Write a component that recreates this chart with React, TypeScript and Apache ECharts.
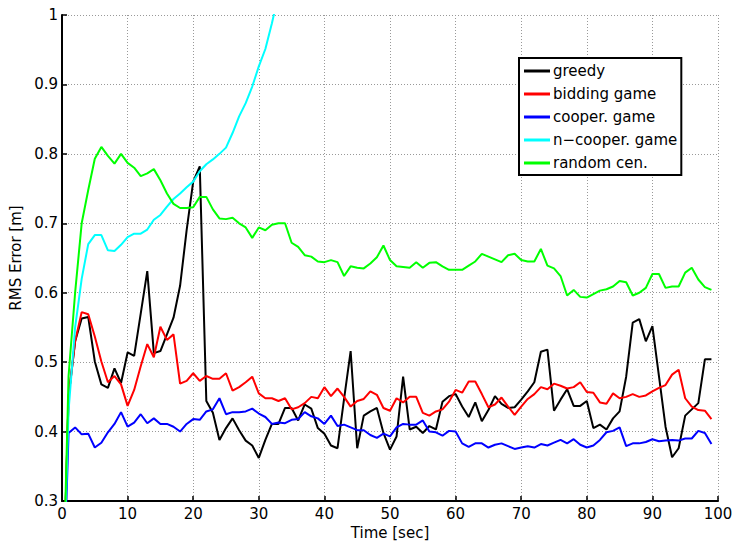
import React, { useEffect, useRef } from "react";
import * as echarts from "echarts";

const seriesNames = ["greedy", "bidding game", "cooper. game", "n\u2212cooper. game", "random cen."];
const seriesColors = ["#000000", "#ff0000", "#0000ff", "#00ffff", "#00ff00"];

const timeSec = Array.from({ length: 100 }, (_, i) => i);

const greedy = [
  0.1, 0.45, 0.53, 0.563, 0.565, 0.501, 0.468, 0.463, 0.491, 0.47,
  0.514, 0.509, 0.57, 0.631, 0.513, 0.516, 0.54, 0.564, 0.61, 0.69,
  0.76, 0.782, 0.444, 0.427, 0.388, 0.405, 0.419, 0.402, 0.387, 0.38,
  0.362, 0.388, 0.411, 0.411, 0.434, 0.434, 0.416, 0.439, 0.433, 0.405,
  0.397, 0.38, 0.376, 0.447, 0.516, 0.376, 0.423, 0.429, 0.434, 0.398,
  0.374, 0.393, 0.479, 0.403, 0.407, 0.398, 0.408, 0.403, 0.443, 0.451,
  0.454, 0.436, 0.421, 0.442, 0.415, 0.431, 0.451, 0.44, 0.434, 0.435,
  0.446, 0.458, 0.471, 0.515, 0.518, 0.43, 0.446, 0.461, 0.437, 0.437,
  0.444, 0.405, 0.41, 0.403, 0.419, 0.429, 0.479, 0.557, 0.562, 0.53,
  0.552, 0.48, 0.407, 0.363, 0.376, 0.423, 0.432, 0.441, 0.504, 0.504,
];

const bidding = [
  0.1, 0.45, 0.53, 0.572, 0.569, 0.537, 0.501, 0.471, 0.48, 0.468,
  0.437, 0.46, 0.494, 0.526, 0.507, 0.551, 0.532, 0.54, 0.469, 0.473,
  0.484, 0.473, 0.48, 0.476, 0.476, 0.484, 0.459, 0.464, 0.471, 0.479,
  0.455, 0.448, 0.448, 0.444, 0.448, 0.432, 0.435, 0.441, 0.45, 0.448,
  0.464, 0.451, 0.462, 0.45, 0.436, 0.444, 0.447, 0.458, 0.453, 0.434,
  0.43, 0.448, 0.442, 0.45, 0.45, 0.427, 0.423, 0.429, 0.432, 0.443,
  0.46, 0.456, 0.472, 0.472, 0.454, 0.435, 0.439, 0.449, 0.436, 0.424,
  0.436, 0.447, 0.454, 0.464, 0.461, 0.469, 0.466, 0.462, 0.464, 0.471,
  0.457, 0.456, 0.442, 0.44, 0.455, 0.448, 0.45, 0.454, 0.45, 0.452,
  0.458, 0.463, 0.467, 0.482, 0.489, 0.448, 0.436, 0.431, 0.43, 0.418,
];

const cooper = [
  0.1, 0.398, 0.406, 0.396, 0.397, 0.377, 0.384, 0.399, 0.411, 0.428,
  0.407, 0.413, 0.425, 0.412, 0.419, 0.411, 0.411, 0.407, 0.4, 0.411,
  0.418, 0.417, 0.429, 0.432, 0.448, 0.425, 0.428, 0.428, 0.429, 0.433,
  0.426, 0.421, 0.411, 0.413, 0.412, 0.417, 0.418, 0.428, 0.422, 0.419,
  0.411, 0.423, 0.408, 0.41, 0.406, 0.402, 0.402, 0.395, 0.391, 0.397,
  0.393, 0.406, 0.411, 0.41, 0.41, 0.416, 0.4, 0.399, 0.394, 0.401,
  0.4, 0.383, 0.378, 0.383, 0.383, 0.377, 0.381, 0.383, 0.379, 0.375,
  0.377, 0.379, 0.377, 0.382, 0.38, 0.384, 0.388, 0.383, 0.389, 0.381,
  0.377, 0.38, 0.388, 0.399, 0.401, 0.406, 0.379, 0.383, 0.383, 0.385,
  0.389, 0.386, 0.387, 0.388, 0.387, 0.39, 0.39, 0.401, 0.398, 0.382,
];

const nCooper = [
  0.1, 0.43, 0.55, 0.62, 0.67, 0.683, 0.683, 0.661, 0.66, 0.669,
  0.68, 0.685, 0.685, 0.691, 0.705, 0.712, 0.724, 0.735, 0.743, 0.752,
  0.76, 0.775, 0.785, 0.792, 0.8, 0.809, 0.83, 0.854, 0.873, 0.897,
  0.926, 0.951, 0.988, 1.03,
];

const randomCen = [
  0.1, 0.48, 0.6, 0.7, 0.748, 0.793, 0.81, 0.797, 0.786, 0.8,
  0.787, 0.78, 0.768, 0.772, 0.778, 0.762, 0.743, 0.728, 0.722, 0.722,
  0.723, 0.738, 0.738, 0.72, 0.707, 0.706, 0.708, 0.7, 0.694, 0.679,
  0.694, 0.69, 0.698, 0.7, 0.7, 0.672, 0.666, 0.654, 0.652, 0.645,
  0.644, 0.647, 0.644, 0.624, 0.638, 0.636, 0.635, 0.642, 0.651, 0.668,
  0.647, 0.638, 0.637, 0.636, 0.644, 0.636, 0.643, 0.644, 0.638, 0.633,
  0.633, 0.633, 0.639, 0.645, 0.656, 0.652, 0.648, 0.644, 0.654, 0.656,
  0.647, 0.645, 0.645, 0.663, 0.639, 0.635, 0.624, 0.596, 0.604, 0.594,
  0.593, 0.598, 0.603, 0.605, 0.609, 0.617, 0.615, 0.596, 0.6, 0.607,
  0.627, 0.627, 0.607, 0.609, 0.609, 0.629, 0.636, 0.619, 0.608, 0.604,
];

const allSeries = [greedy, bidding, cooper, nCooper, randomCen];

const FONT = "DejaVu Sans";

export default function App() {
  const ref = useRef<HTMLDivElement>(null);

  useEffect(() => {
    document.body.style.margin = "0";
    const chart = echarts.init(ref.current!, null, { renderer: "svg" });
    const axisCommon = {
      axisLine: { show: true, onZero: false, lineStyle: { color: "#000", width: 2 } },
      axisTick: { show: true, inside: true, length: 5, lineStyle: { color: "#000", width: 1.5 } },
      axisLabel: { color: "#000", fontFamily: FONT, fontSize: 15 },
      splitLine: { show: true, lineStyle: { color: "#999", width: 1, type: [1, 2] } },
      nameTextStyle: { color: "#000", fontFamily: FONT, fontSize: 15 },
    };
    chart.setOption({
      animation: false,
      backgroundColor: "#fff",
      textStyle: { fontFamily: FONT },
      grid: { left: 62, right: 20, top: 15, bottom: 47, containLabel: false },
      legend: {
        show: true,
        orient: "vertical",
        left: 519,
        top: 58,
        padding: [5, 4, 4, 5],
        itemGap: 7,
        itemWidth: 26,
        itemHeight: 3,
        icon: "rect",
        backgroundColor: "#fff",
        borderColor: "#000",
        borderWidth: 2,
        borderRadius: 0,
        textStyle: { color: "#000", fontFamily: FONT, fontSize: 15, lineHeight: 16, padding: [0, 0, 0, -2] },
        data: seriesNames,
      },
      xAxis: {
        type: "value",
        min: 0,
        max: 100,
        interval: 10,
        name: "Time [sec]",
        nameLocation: "middle",
        nameGap: 23,
        ...axisCommon,
        axisLabel: { ...axisCommon.axisLabel, margin: 5 },
      },
      yAxis: {
        type: "value",
        min: 0.3,
        max: 1,
        interval: 0.1,
        name: "RMS Error [m]",
        nameLocation: "middle",
        nameGap: 35,
        ...axisCommon,
        axisLabel: { ...axisCommon.axisLabel, margin: 4 },
      },
      series: allSeries.map((vals, i) => ({
        name: seriesNames[i],
        type: "line",
        data: vals.map((v, j) => [timeSec[j], v]),
        showSymbol: false,
        symbol: "none",
        clip: true,
        color: seriesColors[i],
        lineStyle: { color: seriesColors[i], width: 2 },
        itemStyle: { color: seriesColors[i] },
        z: 2 + i,
      })),
    });
    return () => chart.dispose();
  }, []);

  return (
    <div
      ref={ref}
      style={{ position: "fixed", left: 0, top: 0, width: 738, height: 548, background: "#fff" }}
    />
  );
}
